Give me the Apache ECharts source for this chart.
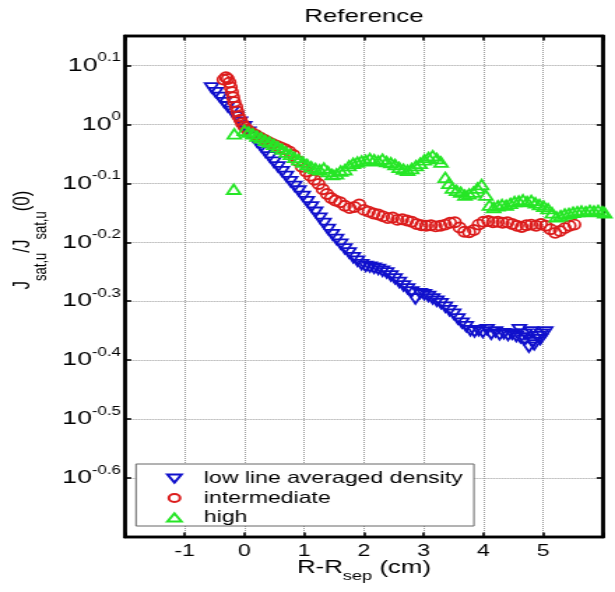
<!DOCTYPE html>
<html>
<head>
<meta charset="utf-8">
<script src="https://cdn.jsdelivr.net/npm/echarts@6/dist/echarts.min.js"></script>
<style>
  html, body { margin: 0; padding: 0; background: #fff; overflow: hidden; }
  /* the figure is laid out narrow and widened horizontally to fill the window */
  #chart { width: 440px; height: 592px; transform: scaleX(1.397727); transform-origin: 0 0; }
</style>
</head>
<body>
<div id="chart"></div>
<script>
// Upstream saturation current normalised to its value at the separatrix,
// stored as log10(J_sat,u / J_sat,u(0)) against R - R_sep (cm).
const seriesNames = ['low line averaged density', 'intermediate', 'high'];

const lowDensity = [
  [-0.55, 0.062], [-0.48, 0.054], [-0.41, 0.046], [-0.34, 0.037], [-0.28, 0.030],
  [-0.21, 0.022], [-0.14, 0.013], [-0.07, 0.004], [0.00, -0.004], [0.07, -0.013],
  [0.14, -0.021], [0.21, -0.030], [0.28, -0.038], [0.35, -0.047], [0.42, -0.055],
  [0.49, -0.064], [0.56, -0.072], [0.63, -0.080], [0.70, -0.088], [0.77, -0.097],
  [0.84, -0.105], [0.91, -0.113], [0.98, -0.122], [1.05, -0.131], [1.12, -0.140],
  [1.19, -0.149], [1.26, -0.159], [1.33, -0.168], [1.40, -0.178], [1.47, -0.187],
  [1.54, -0.195], [1.61, -0.203], [1.68, -0.211], [1.75, -0.218], [1.82, -0.226],
  [1.89, -0.232], [1.96, -0.238], [2.03, -0.241], [2.10, -0.242], [2.17, -0.244],
  [2.24, -0.246], [2.31, -0.249], [2.38, -0.252], [2.45, -0.257], [2.52, -0.262],
  [2.59, -0.268], [2.66, -0.274], [2.73, -0.279], [2.80, -0.284], [2.86, -0.296],
  [2.94, -0.287], [3.01, -0.289], [3.08, -0.292], [3.15, -0.296], [3.22, -0.300],
  [3.29, -0.304], [3.36, -0.310], [3.43, -0.316], [3.50, -0.322], [3.57, -0.330],
  [3.64, -0.337], [3.71, -0.343], [3.78, -0.350], [3.85, -0.352], [3.92, -0.350],
  [3.99, -0.353], [4.06, -0.348], [4.13, -0.356], [4.20, -0.352], [4.27, -0.357],
  [4.34, -0.355], [4.41, -0.358], [4.48, -0.356], [4.55, -0.360], [4.60, -0.348],
  [4.62, -0.362], [4.69, -0.366], [4.70, -0.356], [4.76, -0.378], [4.80, -0.352],
  [4.83, -0.370], [4.85, -0.374], [4.90, -0.360], [4.95, -0.365], [4.97, -0.356],
  [5.04, -0.352]
];

const intermediateDensity = [
  [-0.35, 0.076], [-0.31, 0.080], [-0.28, 0.077], [-0.25, 0.071], [-0.23, 0.063],
  [-0.21, 0.055], [-0.19, 0.046], [-0.17, 0.038], [-0.14, 0.030], [-0.12, 0.022],
  [-0.10, 0.014], [-0.07, 0.008], [-0.04, 0.002], [0.00, -0.004], [0.05, -0.009],
  [0.12, -0.014], [0.19, -0.018], [0.26, -0.022], [0.33, -0.026], [0.40, -0.030],
  [0.47, -0.033], [0.54, -0.036], [0.61, -0.039], [0.68, -0.042], [0.75, -0.046],
  [0.82, -0.052], [0.89, -0.062], [0.96, -0.072], [1.03, -0.080], [1.10, -0.087],
  [1.17, -0.094], [1.24, -0.101], [1.31, -0.110], [1.38, -0.118], [1.45, -0.125],
  [1.52, -0.129], [1.60, -0.132], [1.68, -0.138], [1.76, -0.142], [1.84, -0.140],
  [1.92, -0.136], [2.00, -0.145], [2.08, -0.148], [2.16, -0.151], [2.24, -0.153],
  [2.32, -0.156], [2.40, -0.159], [2.48, -0.158], [2.56, -0.162], [2.64, -0.161],
  [2.72, -0.163], [2.80, -0.165], [2.88, -0.169], [2.96, -0.171], [3.04, -0.172],
  [3.12, -0.171], [3.20, -0.173], [3.28, -0.172], [3.36, -0.170], [3.44, -0.167],
  [3.52, -0.166], [3.60, -0.175], [3.68, -0.182], [3.76, -0.183], [3.84, -0.179],
  [3.92, -0.170], [4.00, -0.165], [4.08, -0.164], [4.16, -0.166], [4.24, -0.165],
  [4.32, -0.167], [4.40, -0.166], [4.48, -0.169], [4.56, -0.172], [4.64, -0.174],
  [4.72, -0.171], [4.80, -0.170], [4.88, -0.172], [4.96, -0.169], [5.04, -0.172],
  [5.12, -0.178], [5.20, -0.184], [5.28, -0.181], [5.36, -0.176], [5.44, -0.172],
  [5.52, -0.170]
];

const highDensity = [
  [-0.18, -0.110], [-0.17, -0.016], [0.00, -0.010], [0.07, -0.013], [0.14, -0.016],
  [0.21, -0.020], [0.28, -0.023], [0.35, -0.027], [0.42, -0.030], [0.49, -0.034],
  [0.56, -0.038], [0.63, -0.042], [0.70, -0.047], [0.77, -0.051], [0.84, -0.056],
  [0.91, -0.060], [0.98, -0.064], [1.05, -0.068], [1.12, -0.072], [1.19, -0.075],
  [1.26, -0.077], [1.33, -0.074], [1.40, -0.080], [1.47, -0.085], [1.54, -0.084],
  [1.61, -0.079], [1.68, -0.077], [1.75, -0.070], [1.82, -0.066], [1.89, -0.064],
  [1.96, -0.062], [2.03, -0.061], [2.10, -0.058], [2.17, -0.060], [2.24, -0.062],
  [2.31, -0.059], [2.38, -0.063], [2.45, -0.065], [2.52, -0.068], [2.59, -0.073],
  [2.66, -0.076], [2.73, -0.078], [2.80, -0.075], [2.87, -0.070], [2.94, -0.066],
  [3.01, -0.060], [3.08, -0.056], [3.15, -0.053], [3.22, -0.058], [3.29, -0.064],
  [3.36, -0.090], [3.42, -0.100], [3.48, -0.108], [3.55, -0.112], [3.62, -0.115],
  [3.69, -0.120], [3.76, -0.118], [3.83, -0.115], [3.90, -0.108], [3.97, -0.102],
  [4.04, -0.120], [4.10, -0.137], [4.17, -0.141], [4.24, -0.138], [4.31, -0.136],
  [4.38, -0.137], [4.45, -0.134], [4.52, -0.131], [4.59, -0.130], [4.66, -0.128],
  [4.73, -0.131], [4.80, -0.129], [4.87, -0.133], [4.94, -0.136], [5.01, -0.139],
  [5.08, -0.143], [5.15, -0.150], [5.22, -0.157], [5.29, -0.155], [5.36, -0.152],
  [5.43, -0.151], [5.50, -0.149], [5.57, -0.148], [5.64, -0.147], [5.71, -0.148],
  [5.78, -0.146], [5.85, -0.147], [5.92, -0.146], [5.99, -0.148], [6.03, -0.150]
];

const xRange = [-2, 6];
const yExponentRange = [-0.7, 0.15];

const FONT = '"Liberation Sans", Arial, Helvetica, sans-serif';
const BLUE = '#1010cc';
const RED = '#dc1c1c';
const GREEN = '#26e626';
const DOWN_TRIANGLE = 'path://M0,0L10,0L5,8Z';

const chart = echarts.init(document.getElementById('chart'), null, { renderer: 'canvas' });

function xLabel(v) {
  return (v <= xRange[0] || v >= xRange[1]) ? '' : String(v);
}

function yLabel(v) {
  const r = Math.round(v * 10) / 10;
  if (Math.abs(v - r) > 1e-6 || r < -0.65) return '';
  const e = r === 0 ? '0' : r.toFixed(1);
  return '{b|10}{s|' + e + '}';
}

const frameAxis = (extra) => Object.assign({
  type: 'value',
  axisLine: { show: true, onZero: false, lineStyle: { color: '#000', width: 2.4 } },
  axisTick: { show: true, inside: true, length: 4.5, lineStyle: { color: '#000', width: 1.6 } },
  splitLine: { show: false },
  axisLabel: { show: false }
}, extra);

function scatter(name, data, symbol, rotate, size, color) {
  return {
    name: name,
    type: 'scatter',
    data: data,
    symbol: symbol,
    symbolRotate: rotate,
    symbolSize: size,
    clip: false,
    xAxisIndex: 0,
    yAxisIndex: 0,
    itemStyle: { color: 'rgba(0,0,0,0)', borderColor: color, borderWidth: 1.8, opacity: 1 },
    emphasis: { disabled: true }
  };
}

chart.setOption({
  animation: false,
  backgroundColor: '#fff',
  grid: { left: 89.4, right: 8.6, top: 36, bottom: 55, containLabel: false,
          show: true, borderColor: '#000', borderWidth: 2.4, backgroundColor: 'rgba(0,0,0,0)' },
  xAxis: [
    frameAxis({
      position: 'bottom', min: xRange[0], max: xRange[1], interval: 1,
      axisLabel: { show: true, formatter: xLabel, color: '#000', fontSize: 16.5, fontFamily: FONT, margin: 6 },
      splitLine: { show: true, lineStyle: { color: '#9a9a9a', width: 1, type: 'dotted' } }
    }),
    frameAxis({ position: 'top', min: xRange[0], max: xRange[1], interval: 1 })
  ],
  yAxis: [
    frameAxis({
      position: 'left', min: yExponentRange[0], max: yExponentRange[1], interval: 0.1,
      axisLine: { show: true, onZero: false, lineStyle: { color: '#000', width: 2.6 } },
      axisLabel: {
        show: true, formatter: yLabel, margin: 3, showMaxLabel: false,
        rich: {
          b: { fontSize: 19, fontFamily: FONT, color: '#000', lineHeight: 27, verticalAlign: 'middle' },
          s: { fontSize: 12, fontFamily: FONT, color: '#000', lineHeight: 12, verticalAlign: 'top' }
        }
      },
      splitLine: { show: true, lineStyle: { color: '#9a9a9a', width: 1, type: 'dotted' } }
    }),
    frameAxis({
      position: 'right', min: yExponentRange[0], max: yExponentRange[1], interval: 0.1,
      axisLine: { show: true, onZero: false, lineStyle: { color: '#000', width: 2.6 } }
    })
  ],
  legend: {
    orient: 'vertical',
    left: 97.3,
    top: 464,
    padding: [6, 8, 0, 21.5],
    itemGap: 2.5,
    itemWidth: 10,
    itemHeight: 8,
    backgroundColor: '#fff',
    borderColor: '#666',
    borderWidth: 1,
    borderRadius: 0,
    selectedMode: false,
    textStyle: { fontSize: 16.5, fontFamily: FONT, color: '#000', lineHeight: 16, padding: [0, 0, 0, 11] },
    data: [
      { name: seriesNames[0], icon: DOWN_TRIANGLE },
      { name: seriesNames[1] },
      { name: seriesNames[2] }
    ]
  },
  graphic: [
    {
      type: 'text', x: 260.4, y: 17, silent: true,
      style: { text: 'Reference', fontSize: 18.5, fontFamily: FONT, fill: '#000', align: 'center', verticalAlign: 'middle' }
    },
    {
      type: 'text', x: 260.4, y: 553, silent: true,
      style: {
        text: '{m|R-R}{s|sep}{m| (cm)}', align: 'center', verticalAlign: 'top',
        rich: {
          m: { fontSize: 18.5, fontFamily: FONT, fill: '#000', lineHeight: 30, verticalAlign: 'middle' },
          s: { fontSize: 13, fontFamily: FONT, fill: '#000', lineHeight: 13, verticalAlign: 'bottom' }
        }
      }
    },
    {
      type: 'text', x: 16, y: 240, rotation: Math.PI / 2, silent: true,
      style: {
        text: '{m|J}{s|sat,u}{m|/J}{s|sat,u}{m|(0)}', align: 'center', verticalAlign: 'middle',
        rich: {
          m: { fontSize: 17, fontFamily: FONT, fill: '#000', lineHeight: 40, verticalAlign: 'middle' },
          s: { fontSize: 13, fontFamily: FONT, fill: '#000', lineHeight: 13, verticalAlign: 'bottom' }
        }
      }
    }
  ],
  series: [
    scatter(seriesNames[0], lowDensity, 'triangle', 180, [9.5, 9.5], BLUE),
    scatter(seriesNames[1], intermediateDensity, 'circle', 0, [8.5, 10], RED),
    scatter(seriesNames[2], highDensity, 'triangle', 0, [9.5, 9.5], GREEN)
  ]
});
</script>
</body>
</html>
